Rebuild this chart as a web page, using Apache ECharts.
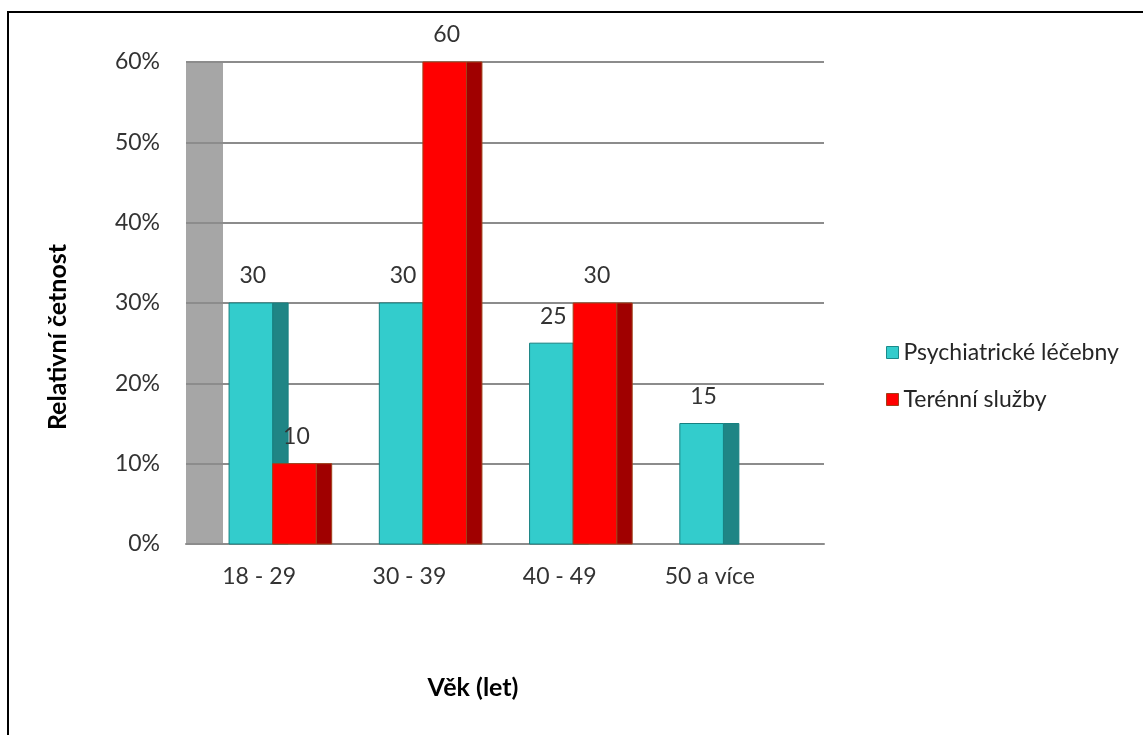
<!DOCTYPE html>
<html>
<head>
<meta charset="utf-8">
<script src="https://cdn.jsdelivr.net/npm/echarts@6/dist/echarts.min.js"></script>
<style>
  html, body { margin: 0; padding: 0; background: #fff; }
  #chart { width: 1143px; height: 735px; }
</style>
</head>
<body>
<div id="chart"></div>
<script>
// Age groups and the share (%) of respondents in each group
const categories = ['18 - 29', '30 - 39', '40 - 49', '50 a více'];
const seriesNames = ['Psychiatrické léčebny', 'Terénní služby'];
const psychiatricValues = [30, 30, 25, 15];
const fieldServiceValues = [10, 60, 30, null];
const yTicks = [0, 10, 20, 30, 40, 50, 60];

const FONT = 'Lato, "Open Sans", sans-serif';
const TEXT_GREY = '#333333';
const FONT_SIZE = 23;

// Fake-3D column layout, as fractions of one category band
const GROUP_START = 0.30;
const FRONT_W = 0.29;
const DEPTH = 0.103;

function columnRenderer(slot, face, side, edge) {
  return function (params, api) {
    const v = api.value(1);
    if (v == null || isNaN(v)) return null;
    const top = api.coord([api.value(0), v]);
    const base = api.coord([api.value(0), 0]);
    const band = api.size([1, 0])[0];
    const x = top[0] - band / 2 + band * (GROUP_START + slot * FRONT_W);
    const w = band * FRONT_W;
    const d = band * DEPTH;
    const h = base[1] - top[1];
    return {
      type: 'group',
      children: [
        { type: 'rect', shape: { x: x + w, y: top[1], width: d, height: h },
          style: { fill: side, stroke: edge, lineWidth: 1 } },
        { type: 'rect', shape: { x: x, y: top[1], width: w, height: h },
          style: { fill: face, stroke: edge, lineWidth: 1 } },
        { type: 'text', z2: 10,
          style: { text: String(v), x: x + w / 2 + 2, y: top[1] - 27,
                   align: 'center', verticalAlign: 'middle',
                   fontFamily: FONT, fontSize: FONT_SIZE, fill: TEXT_GREY } }
      ]
    };
  };
}

const chart = echarts.init(document.getElementById('chart'), null, { renderer: 'canvas' });

const yMin = yTicks[0], yMax = yTicks[yTicks.length - 1], yStep = yTicks[1] - yTicks[0];

chart.setOption({
  backgroundColor: '#ffffff',
  animation: false,
  grid: [
    // back wall with gridlines
    { left: 186, top: 62, width: 638, height: 482 },
    // grey side wall
    { left: 186, top: 62, width: 37, height: 482, show: true,
      backgroundColor: '#a6a6a6', borderWidth: 0, z: 0 },
    // columns
    { left: 184, top: 62, width: 601, height: 482 }
  ],
  xAxis: [
    { gridIndex: 0, type: 'value', min: 0, max: 1, show: true,
      axisLine: { show: true, lineStyle: { color: '#8c8c8c', width: 2 } },
      axisTick: { show: false }, axisLabel: { show: false }, splitLine: { show: false }, z: 3 },
    { gridIndex: 1, type: 'value', min: 0, max: 1, show: false },
    { gridIndex: 2, type: 'category', data: categories,
      axisLine: { show: false }, axisTick: { show: false },
      axisLabel: { margin: 21, fontFamily: FONT, fontSize: FONT_SIZE, color: TEXT_GREY } }
  ],
  yAxis: [
    { gridIndex: 0, type: 'value', min: yMin, max: yMax, interval: yStep, z: 3,
      axisLine: { show: false }, axisTick: { show: false },
      axisLabel: { formatter: '{value}%', margin: 26, fontFamily: FONT, fontSize: FONT_SIZE, color: TEXT_GREY },
      splitLine: { show: true, lineStyle: { color: '#8c8c8c', width: 2 } } },
    { gridIndex: 1, type: 'value', min: yMin, max: yMax, show: false },
    { gridIndex: 2, type: 'value', min: yMin, max: yMax, show: false }
  ],
  legend: {
    orient: 'vertical', left: 881, top: 336,
    itemWidth: 12, itemHeight: 12, itemGap: 24,
    textStyle: { fontFamily: FONT, fontSize: FONT_SIZE, color: '#262626' },
    data: [
      { name: seriesNames[0], icon: 'rect',
        itemStyle: { color: '#33CCCC', borderColor: '#1a8a8a', borderWidth: 1 } },
      { name: seriesNames[1], icon: 'rect',
        itemStyle: { color: '#FF0000', borderColor: '#a0401a', borderWidth: 1 } }
    ]
  },
  graphic: [
    { type: 'rect', z: 100, silent: true,
      shape: { x: 8, y: 12, width: 1300, height: 900 },
      style: { fill: 'none', stroke: '#000', lineWidth: 2 } },
    { type: 'text', x: 58, y: 337, rotation: Math.PI / 2,
      style: { text: 'Relativní četnost', align: 'center', verticalAlign: 'middle',
               fontFamily: FONT, fontSize: 25, fontWeight: 'bold', fill: '#000' } },
    { type: 'text', x: 473, y: 688,
      style: { text: 'Věk (let)', align: 'center', verticalAlign: 'middle',
               fontFamily: FONT, fontSize: 25, fontWeight: 'bold', fill: '#000' } }
  ],
  series: [
    { name: seriesNames[0], type: 'custom', xAxisIndex: 2, yAxisIndex: 2, z: 5,
      itemStyle: { color: '#33CCCC', borderColor: '#1a8a8a' },
      encode: { x: 0, y: 1 },
      data: psychiatricValues.map((v, i) => [i, v]),
      renderItem: columnRenderer(0, '#33CCCC', '#1F8585', '#178080') },
    { name: seriesNames[1], type: 'custom', xAxisIndex: 2, yAxisIndex: 2, z: 6,
      itemStyle: { color: '#FF0000', borderColor: '#a0401a' },
      encode: { x: 0, y: 1 },
      data: fieldServiceValues.map((v, i) => [i, v]),
      renderItem: columnRenderer(1, '#FF0000', '#A00000', '#a0401a') }
  ]
});
</script>
</body>
</html>
